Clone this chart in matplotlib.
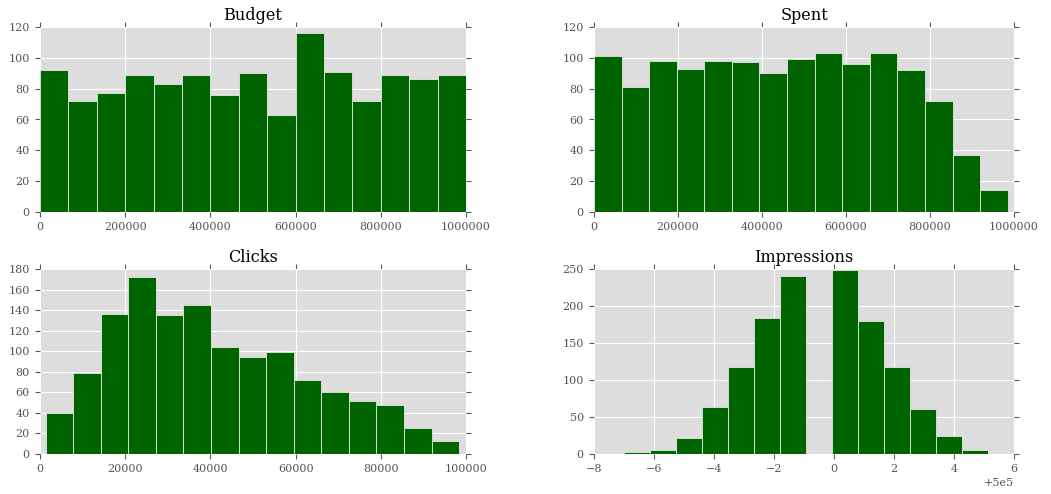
import numpy as np
import matplotlib
matplotlib.use("Agg")
import matplotlib.pyplot as plt

titles = ["Budget", "Spent", "Clicks", "Impressions"]

# histogram ranges (data min / max) and counts per bin (15 bins each)
budget_range = (0, 1000000)
budget_counts = [92, 72, 77, 89, 83, 89, 76, 90, 63, 116, 91, 72, 89, 86, 89]

spent_range = (0, 985000)
spent_counts = [101, 81, 98, 93, 98, 97, 90, 99, 103, 96, 103, 92, 72, 37, 14]

clicks_range = (1300, 98400)
clicks_counts = [40, 79, 136, 172, 135, 145, 104, 94, 99, 72, 60, 52, 48, 25, 13]

impr_range = (499993, 500006)
impr_counts = [3, 5, 22, 63, 118, 184, 241, 0, 248, 180, 118, 61, 25, 5, 0]

xlims = [(0, 1000000), (0, 1000000), (0, 100000), (499992, 500006)]
ylims = [(0, 120), (0, 120), (0, 180), (0, 250)]
xsteps = [200000, 200000, 20000, 2]
ysteps = [20, 20, 20, 50]

plt.rcParams['font.family'] = ['DejaVu Serif']
plt.rcParams['axes.formatter.limits'] = [-7, 7]
plt.rcParams['axes.unicode_minus'] = True

fig = plt.figure(figsize=(10.51, 4.94), dpi=100)
W, H = 1051, 494
boxes = [(40, 27, 426, 185), (594, 27, 420, 185),
         (40, 269, 426, 185), (594, 269, 420, 185)]

ranges = [budget_range, spent_range, clicks_range, impr_range]
counts = [budget_counts, spent_counts, clicks_counts, impr_counts]

for i in range(4):
    x0, y0, w, h = boxes[i]
    ax = fig.add_axes([x0 / W, (H - y0 - h) / H, w / W, h / H])
    ax.set_facecolor('#dddddd')
    for s in ax.spines.values():
        s.set_visible(False)
    edges = np.linspace(ranges[i][0], ranges[i][1], len(counts[i]) + 1)
    centers = (edges[:-1] + edges[1:]) / 2
    ax.hist(centers, bins=edges, weights=counts[i], color='#006400',
            edgecolor='#d0e0d0', linewidth=0.7)
    ax.set_xlim(*xlims[i])
    ax.set_ylim(*ylims[i])
    if i == 3:
        ax.set_xticks(np.arange(499992, 500006 + 1, 2))
    else:
        ax.set_xticks(np.arange(xlims[i][0], xlims[i][1] + 1, xsteps[i]))
    ax.set_yticks(np.arange(ylims[i][0], ylims[i][1] + 1, ysteps[i]))
    ax.grid(True, color='white', linewidth=0.8)
    ax.set_axisbelow(True)
    ax.tick_params(direction='out', length=3.8, width=0.8, color='#555555',
                   labelcolor='#555555', labelsize=8, top=True, right=True, pad=3.5)
    ax.xaxis.get_offset_text().set_color('#555555')
    ax.xaxis.get_offset_text().set_fontsize(8)
    ax.set_title(titles[i], fontsize=11.6, pad=5)

fig.savefig("out.png", dpi=100)
